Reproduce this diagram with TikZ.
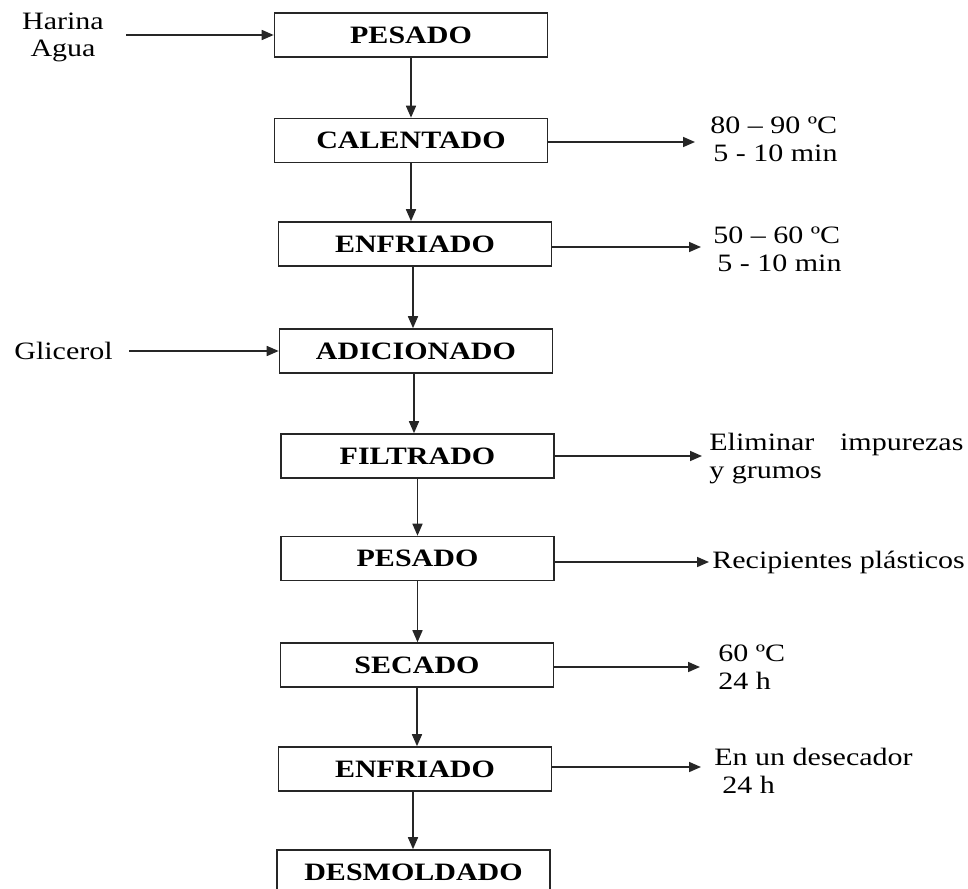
\documentclass[tikz,border=0pt]{standalone}
\usepackage{fontspec}
\setmainfont{Liberation Serif}[FakeStretch=1.2]
\usetikzlibrary{arrows.meta}

\begin{document}
\begin{tikzpicture}[x=0.5pt, y=-0.5pt,
    paso/.style={draw=black!85, line width=0.8pt, minimum width=136.5pt,
        minimum height=22pt, inner sep=0pt,
        font=\fontsize{12.5}{14}\selectfont\bfseries},
    nota/.style={anchor=west, align=left, inner sep=0pt,
        font=\fontsize{12.5}{14}\selectfont},
    flecha/.style={draw=black!85, line width=0.8pt,
        -{Triangle[length=6pt,width=5pt]}}]
    \useasboundingbox (0,0) rectangle (968,888);

    % etapas del proceso
    \node[paso] (pes1) at (411,35) {PESADO};
    \node[paso] (cal)  at (411,140.5) {CALENTADO};
    \node[paso] (enf1) at (415,244) {ENFRIADO};
    \node[paso] (adi)  at (416,351) {ADICIONADO};
    \node[paso] (fil)  at (417.5,456) {FILTRADO};
    \node[paso] (pes2) at (417.5,558.5) {PESADO};
    \node[paso] (sec)  at (417,665) {SECADO};
    \node[paso] (enf2) at (415,769) {ENFRIADO};
    \node[paso] (des)  at (413.5,872) {DESMOLDADO};

    % entradas
    \node[font=\fontsize{12.5}{13.5}\selectfont, align=center, inner sep=0pt]
        (ing) at (63,37) {Harina\\Agua};
    \node[nota] (gli) at (14,351) {Glicerol};
    \coordinate (ing0) at (126,35);
    \coordinate (gli0) at (129,351);

    % condiciones
    \node[nota] (n1) at (710,139) {80 -- 90 ºC\\\hspace{1.5pt}5 - 10 min};
    \node[nota] (n2) at (713,249) {50 -- 60 ºC\\\hspace{2pt}5 - 10 min};
    \node[nota] (n3) at (709,459) {\makebox[127pt][s]{Eliminar impurezas}\\y grumos};
    \node[nota] (n4) at (712,562) {Recipientes plásticos};
    \node[nota] (n5) at (718,667) {60 ºC\\24 h};
    \node[nota] (n6) at (714,771) {En un desecador\\\hspace{4pt}24 h};
    \coordinate (t1) at (695,142);
    \coordinate (t2) at (701,247);
    \coordinate (t3) at (702,456);
    \coordinate (t4) at (709,562);
    \coordinate (t5) at (700,667);
    \coordinate (t6) at (701,767);

    % flechas verticales
    \draw[flecha] (pes1.south) -- (pes1.south |- cal.north);
    \draw[flecha] (cal.south) -- (cal.south |- enf1.north);
    \draw[flecha] (enf1.south) ++(-2,0) coordinate (e1) -- (e1 |- adi.north);
    \draw[flecha] (adi.south) ++(-2,0) coordinate (a1) -- (a1 |- fil.north);
    \draw[flecha] (fil.south) -- (fil.south |- pes2.north);
    \draw[flecha] (pes2.south) -- (pes2.south |- sec.north);
    \draw[flecha] (sec.south) -- (sec.south |- enf2.north);
    \draw[flecha] (enf2.south) ++(-2,0) coordinate (e2) -- (e2 |- des.north);

    % flechas laterales
    \draw[flecha] (ing0) -- (ing0 -| pes1.west);
    \draw[flecha] (gli0) -- (gli0 -| adi.west);
    \draw[flecha] (t1 -| cal.east) -- (t1);
    \draw[flecha] (t2 -| enf1.east) -- (t2);
    \draw[flecha] (t3 -| fil.east) -- (t3);
    \draw[flecha] (t4 -| pes2.east) -- (t4);
    \draw[flecha] (t5 -| sec.east) -- (t5);
    \draw[flecha] (t6 -| enf2.east) -- (t6);
\end{tikzpicture}
\end{document}
